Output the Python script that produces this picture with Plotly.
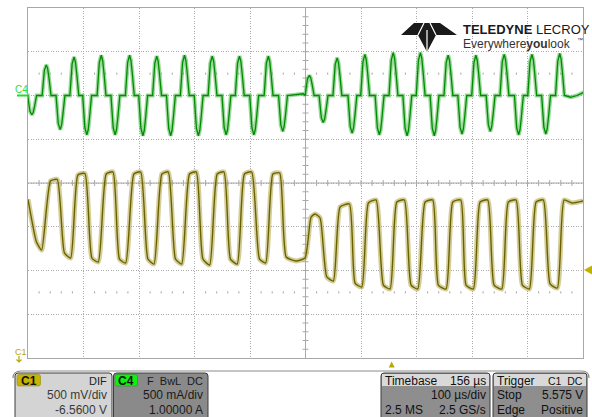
import plotly.graph_objects as go

# ---------------- data (read from the screen) ----------------
# time in microseconds relative to the trigger (100 us/div, delay 156 us)
c1_t = [-656, -640.7, -631.4, -615.5, -603.3, -590.3, -579.1, -566.1, -553.4, -540.9,
        -529.4, -515.1, -502.9, -491.2, -480.0, -465.2, -453.0, -440.0, -429.0, -414.8,
        -403.3, -390.3, -379.1, -365.0, -352.8, -340.9, -328.7, -315.1, -302.9, -291.2,
        -279.0, -266.0, -253.0, -238.9, -227.8, -214.8, -202.5, -190.8, -173.0, -156.8,
        -146.0, -138.7, -129.7, -117.7, -105.8, -93.7, -76.9, -66.7, -54.6, -42.7,
        -28.8, -15.7, -3.6, 8.5, 22.2, 34.2, 46.3, 59.5, 73.3, 83.4,
        97.3, 109.4, 123.8, 133.3, 146.5, 158.6, 172.4, 183.8, 197.7, 209.5,
        223.4, 234.8, 247.4, 259.5, 272.6, 284.7, 297.8, 309.9, 324.3, 344.1]
# C1 differential voltage (V)
c1_v = [6.374, 5.886, 5.794, 6.583, 6.600, 5.760, 5.703, 6.651, 6.669, 5.703,
        5.657, 6.663, 6.686, 5.691, 5.646, 6.663, 6.686, 5.691, 5.634, 6.663,
        6.686, 5.691, 5.634, 6.663, 6.686, 5.691, 5.623, 6.663, 6.686, 5.691,
        5.634, 6.663, 6.686, 5.691, 5.646, 6.663, 6.674, 5.714, 5.669, 5.703,
        6.171, 6.206, 6.160, 5.486, 5.440, 6.286, 6.320, 5.417, 5.371, 6.331,
        6.366, 5.394, 5.349, 6.343, 6.366, 5.394, 5.349, 6.343, 6.366, 5.394,
        5.349, 6.343, 6.366, 5.394, 5.349, 6.343, 6.366, 5.394, 5.349, 6.343,
        6.366, 5.394, 5.349, 6.343, 6.366, 5.406, 5.360, 6.366, 6.331, 6.354]

# C4 current: extreme of every half-cycle lobe (time us, current A)
c4_peak_t = [-649, -623, -598, -573, -550, -524, -499, -473, -449, -424,
             -399, -374, -349, -324, -299, -275, -249, -223, -197,
             -149, -124, -99, -72, -49, -23, 2, 27, 51, 76,
             101, 126, 151, 177, 202, 228, 252, 277, 302]
c4_peak_a = [-0.22, 0.35, -0.39, 0.44, -0.45, 0.46, -0.45, 0.46, -0.46, 0.45,
             -0.46, 0.46, -0.46, 0.45, -0.45, 0.45, -0.45, 0.45, -0.41,
             0.23, -0.31, 0.43, -0.43, 0.47, -0.45, 0.49, -0.46, 0.49, -0.46,
             0.46, -0.44, 0.46, -0.41, 0.47, -0.45, 0.47, -0.44, 0.48]
# lobe profile (time from extreme, fraction of extreme)
c4_lobe_dt = [-7.5, -5.5, -3.5, 0, 2.5, 5, 8.5]
c4_lobe_frac = [0, 0.43, 0.82, 1, 0.87, 0.54, 0]
# idle baseline samples between / after bursts
c4_idle_t = [-660, -160, 322, 333, 345]
c4_idle_a = [0.0, 0.02, -0.02, 0.0, 0.035]

# channel / timebase settings shown on screen
c1_scale, c1_offset = 0.5, -6.56     # V/div, V
c4_scale, c4_offset = 0.5, 1.0       # A/div, A
t_div, t_delay = 100, 156            # us/div, us
n_hdiv, n_vdiv = 10, 8

# assemble the C4 vertex table from the read extremes and lobe profile
c4_pts = list(zip(c4_idle_t, c4_idle_a))
for te, ae in zip(c4_peak_t, c4_peak_a):
    for dt, fr in zip(c4_lobe_dt, c4_lobe_frac):
        c4_pts.append((te + dt, ae * fr))
c4_pts.sort()
c4_x = [p[0] for p in c4_pts]
c4_y = [p[1] for p in c4_pts]

# ---------------- geometry helpers (pixel -> paper) ----------------
W, H = 592, 417
L, R, T, B = 28, 583, 8, 358


def px(x):
    return (x - L) / (R - L)


def py(y):
    return (B - y) / (B - T)


def rrect(x0, y0, x1, y1, r):
    return (f"M {px(x0 + r)},{py(y0)} L {px(x1 - r)},{py(y0)} "
            f"Q {px(x1)},{py(y0)} {px(x1)},{py(y0 + r)} L {px(x1)},{py(y1 - r)} "
            f"Q {px(x1)},{py(y1)} {px(x1 - r)},{py(y1)} L {px(x0 + r)},{py(y1)} "
            f"Q {px(x0)},{py(y1)} {px(x0)},{py(y1 - r)} L {px(x0)},{py(y0 + r)} "
            f"Q {px(x0)},{py(y0)} {px(x0 + r)},{py(y0)} Z")


def poly(pts):
    return "M " + " L ".join(f"{px(a)},{py(b)}" for a, b in pts) + " Z"


x_lo = -t_delay - t_div * n_hdiv / 2
x_hi = -t_delay + t_div * n_hdiv / 2
c1_center = -c1_offset
c1_lo, c1_hi = c1_center - c1_scale * n_vdiv / 2, c1_center + c1_scale * n_vdiv / 2
c4_center = -c4_offset
c4_lo, c4_hi = c4_center - c4_scale * n_vdiv / 2, c4_center + c4_scale * n_vdiv / 2

fig = go.Figure()

# C1 (olive) halo + core
fig.add_trace(go.Scatter(x=c1_t, y=c1_v, mode="lines", yaxis="y",
                         line=dict(color="rgba(175,165,70,0.55)", width=5, shape="spline", smoothing=0.5),
                         hoverinfo="skip", showlegend=False))
fig.add_trace(go.Scatter(x=c1_t, y=c1_v, mode="lines", yaxis="y", name="C1",
                         line=dict(color="#6b6000", width=1.4, shape="spline", smoothing=0.5),
                         showlegend=False))
# C4 (green) halo + core
fig.add_trace(go.Scatter(x=c4_x, y=c4_y, mode="lines", yaxis="y2",
                         line=dict(color="rgba(90,190,90,0.6)", width=4),
                         hoverinfo="skip", showlegend=False))
fig.add_trace(go.Scatter(x=c4_x, y=c4_y, mode="lines", yaxis="y2", name="C4",
                         line=dict(color="#008c00", width=1.3),
                         showlegend=False))

shapes = []
grid_col = "#a8a8a8"
# centre cross lines
shapes.append(dict(type="line", xref="paper", yref="paper", x0=0.5, x1=0.5, y0=0, y1=1,
                   line=dict(color=grid_col, width=1), layer="below"))
shapes.append(dict(type="line", xref="paper", yref="paper", x0=0, x1=1, y0=0.5, y1=0.5,
                   line=dict(color=grid_col, width=1), layer="below"))
# minor ticks on centre lines
cx, cy = (L + R) / 2, (T + B) / 2
dv = (B - T) / n_vdiv / 5
dh = (R - L) / n_hdiv / 5
p = ""
for k in range(1, n_vdiv * 5):
    y = T + k * dv
    p += f"M {px(cx - 3)},{py(y)} L {px(cx + 3)},{py(y)} "
for k in range(1, n_hdiv * 5):
    x = L + k * dh
    p += f"M {px(x)},{py(cy - 3)} L {px(x)},{py(cy + 3)} "
shapes.append(dict(type="path", xref="paper", yref="paper", path=p,
                   line=dict(color=grid_col, width=1), layer="below"))
# sparse dotted rows at +-2.5 div
p = ""
for yy in (cy - 2.5 * (B - T) / n_vdiv, cy + 2.5 * (B - T) / n_vdiv):
    for k in range(1, n_hdiv * 5):
        if k % 5 == 0:
            continue
        x = L + k * dh
        p += f"M {px(x)},{py(yy - 1)} L {px(x)},{py(yy + 1)} "
shapes.append(dict(type="path", xref="paper", yref="paper", path=p,
                   line=dict(color="#a0a0a0", width=1), layer="below"))

# C4 ground marker line
shapes.append(dict(type="line", xref="paper", yref="paper", x0=px(17), x1=px(28), y0=py(95.5), y1=py(95.5),
                   line=dict(color="#22dd22", width=2)))
# C1 arrow (offscreen below)
shapes.append(dict(type="path", xref="paper", yref="paper",
                   path=f"M {px(19)},{py(356)} L {px(19)},{py(362)} M {px(16.5)},{py(359.5)} L {px(19)},{py(362)} L {px(21.5)},{py(359.5)}",
                   line=dict(color="#b8a800", width=1.2)))
# trigger level marker (right)
shapes.append(dict(type="path", xref="paper", yref="paper",
                   path=poly([(584, 270), (592, 265.5), (592, 274.5)]),
                   fillcolor="#c2b200", line=dict(width=0)))
# trigger position marker (bottom)
shapes.append(dict(type="path", xref="paper", yref="paper",
                   path=poly([(388.7, 367.5), (394.7, 367.5), (391.7, 361.5)]),
                   fillcolor="#b8a800", line=dict(width=0)))

# bottom separator
shapes.append(dict(type="path", xref="paper", yref="paper",
                   path=f"M {px(13)},{py(378)} Q {px(13)},{py(371)} {px(21)},{py(371)} L {px(582)},{py(371)} Q {px(589)},{py(371)} {px(589)},{py(378)}",
                   line=dict(color="#8c8c8c", width=1.2)))

# channel boxes
shapes.append(dict(type="path", xref="paper", yref="paper", path=rrect(15, 373, 112, 420, 3),
                   fillcolor="#d4d4d4", line=dict(color="#3c3c3c", width=1)))
shapes.append(dict(type="path", xref="paper", yref="paper", path=rrect(17, 374.5, 40.5, 386, 2),
                   fillcolor="#c8b400", line=dict(color="#8a7c00", width=0.5)))
shapes.append(dict(type="path", xref="paper", yref="paper", path=rrect(113.5, 373, 208, 420, 3),
                   fillcolor="#8a8a8a", line=dict(color="#3c3c3c", width=1)))
shapes.append(dict(type="path", xref="paper", yref="paper", path=rrect(115, 374.5, 137.5, 386, 2),
                   fillcolor="#10f010", line=dict(color="#0a9a0a", width=0.5)))
# timebase / trigger boxes
for x0, x1 in ((381, 490), (493, 587)):
    shapes.append(dict(type="path", xref="paper", yref="paper", path=rrect(x0, 373, x1, 420, 3),
                       fillcolor="#8e8e8e", line=dict(color="#3c3c3c", width=1)))
    shapes.append(dict(type="rect", xref="paper", yref="paper", x0=px(x0 + 1), x1=px(x1 - 1),
                       y0=py(386), y1=py(374), fillcolor="#d9d9d9", line=dict(width=0)))

# logo mark
shapes.append(dict(type="path", xref="paper", yref="paper",
                   path=poly([(401, 35), (414, 23), (440, 23), (457, 35), (436, 35), (427, 52), (418, 35)]),
                   fillcolor="#1a1a1a", line=dict(width=0)))
shapes.append(dict(type="path", xref="paper", yref="paper",
                   path=f"M {px(418)},{py(35)} L {px(424)},{py(23)} M {px(436)},{py(35)} L {px(430)},{py(23)} M {px(427)},{py(52)} L {px(427)},{py(30)}",
                   line=dict(color="white", width=1.2)))

ann = []


def txt(x, y, s, size=12, color="#222", anchor="left", bold=False, family="Liberation Sans, Arial"):
    ann.append(dict(x=px(x), y=py(y), xref="paper", yref="paper", text=f"<b>{s}</b>" if bold else s,
                    showarrow=False, xanchor=anchor, yanchor="middle",
                    font=dict(size=size, color=color, family=family)))


txt(21, 89, "C4", size=10, color="#33dd33", anchor="center")
txt(20.5, 352, "C1", size=9, color="#b8a800", anchor="center")

txt(28.7, 380.5, "C1", size=12, color="#111", anchor="center", bold=True)
txt(108.5, 380.5, "DIF", size=11, color="#222", anchor="right")
txt(108.5, 395, "500 mV/div", size=12, color="#3a3a3a", anchor="right")
txt(108.5, 409.5, "-6.5600 V", size=12, color="#3a3a3a", anchor="right")

txt(126.3, 380.5, "C4", size=12, color="#111", anchor="center", bold=True)
txt(205, 380.5, "F  BwL  DC", size=11, color="#1a1a1a", anchor="right")
txt(205, 395, "500 mA/div", size=12, color="#1a1a1a", anchor="right")
txt(205, 409.5, "1.00000 A", size=12, color="#1a1a1a", anchor="right")

txt(383, 380.5, "Timebase", size=12, color="#111")
txt(488, 380.5, "156 µs", size=12, color="#111", anchor="right")
txt(488, 395, "100 µs/div", size=12, color="#111", anchor="right")
txt(383, 409.5, "2.5 MS", size=12, color="#111")
txt(488, 409.5, "2.5 GS/s", size=12, color="#111", anchor="right")

txt(495, 380.5, "Trigger", size=12, color="#111")
txt(585, 380.5, "C1  DC", size=10.5, color="#111", anchor="right")
txt(495, 395, "Stop", size=12, color="#111")
txt(585, 395, "5.575 V", size=12, color="#111", anchor="right")
txt(495, 409.5, "Edge", size=12, color="#111")
txt(585, 409.5, "Positive", size=12, color="#111", anchor="right")

txt(461, 30, "<b>TELEDYNE</b> LECROY", size=13, color="#1a1a1a")
txt(461, 43.5, "Everywhere<b>you</b>look", size=12, color="#333")
txt(575, 40, "™", size=6, color="#333")

axis_common = dict(showticklabels=False, ticks="", zeroline=False, showline=True, mirror=True,
                   linecolor="#a8a8a8", linewidth=1, showgrid=True, gridcolor="#ababab",
                   griddash="1px,1.5px", gridwidth=1, fixedrange=True)

fig.update_layout(
    width=W, height=H,
    margin=dict(l=L, r=W - R, t=T, b=H - B, pad=0),
    paper_bgcolor="white", plot_bgcolor="white",
    xaxis=dict(range=[x_lo, x_hi], tick0=x_lo, dtick=t_div, **axis_common),
    yaxis=dict(range=[c1_lo, c1_hi], tick0=c1_lo, dtick=c1_scale, **axis_common),
    yaxis2=dict(range=[c4_lo, c4_hi], overlaying="y", showgrid=False, showticklabels=False,
                zeroline=False, showline=False, ticks="", fixedrange=True),
    shapes=shapes, annotations=ann, showlegend=False,
)

fig.write_html("out.html", config={"displayModeBar": False, "staticPlot": True},
               post_script="document.body.style.margin='0';document.body.style.overflow='hidden';")
